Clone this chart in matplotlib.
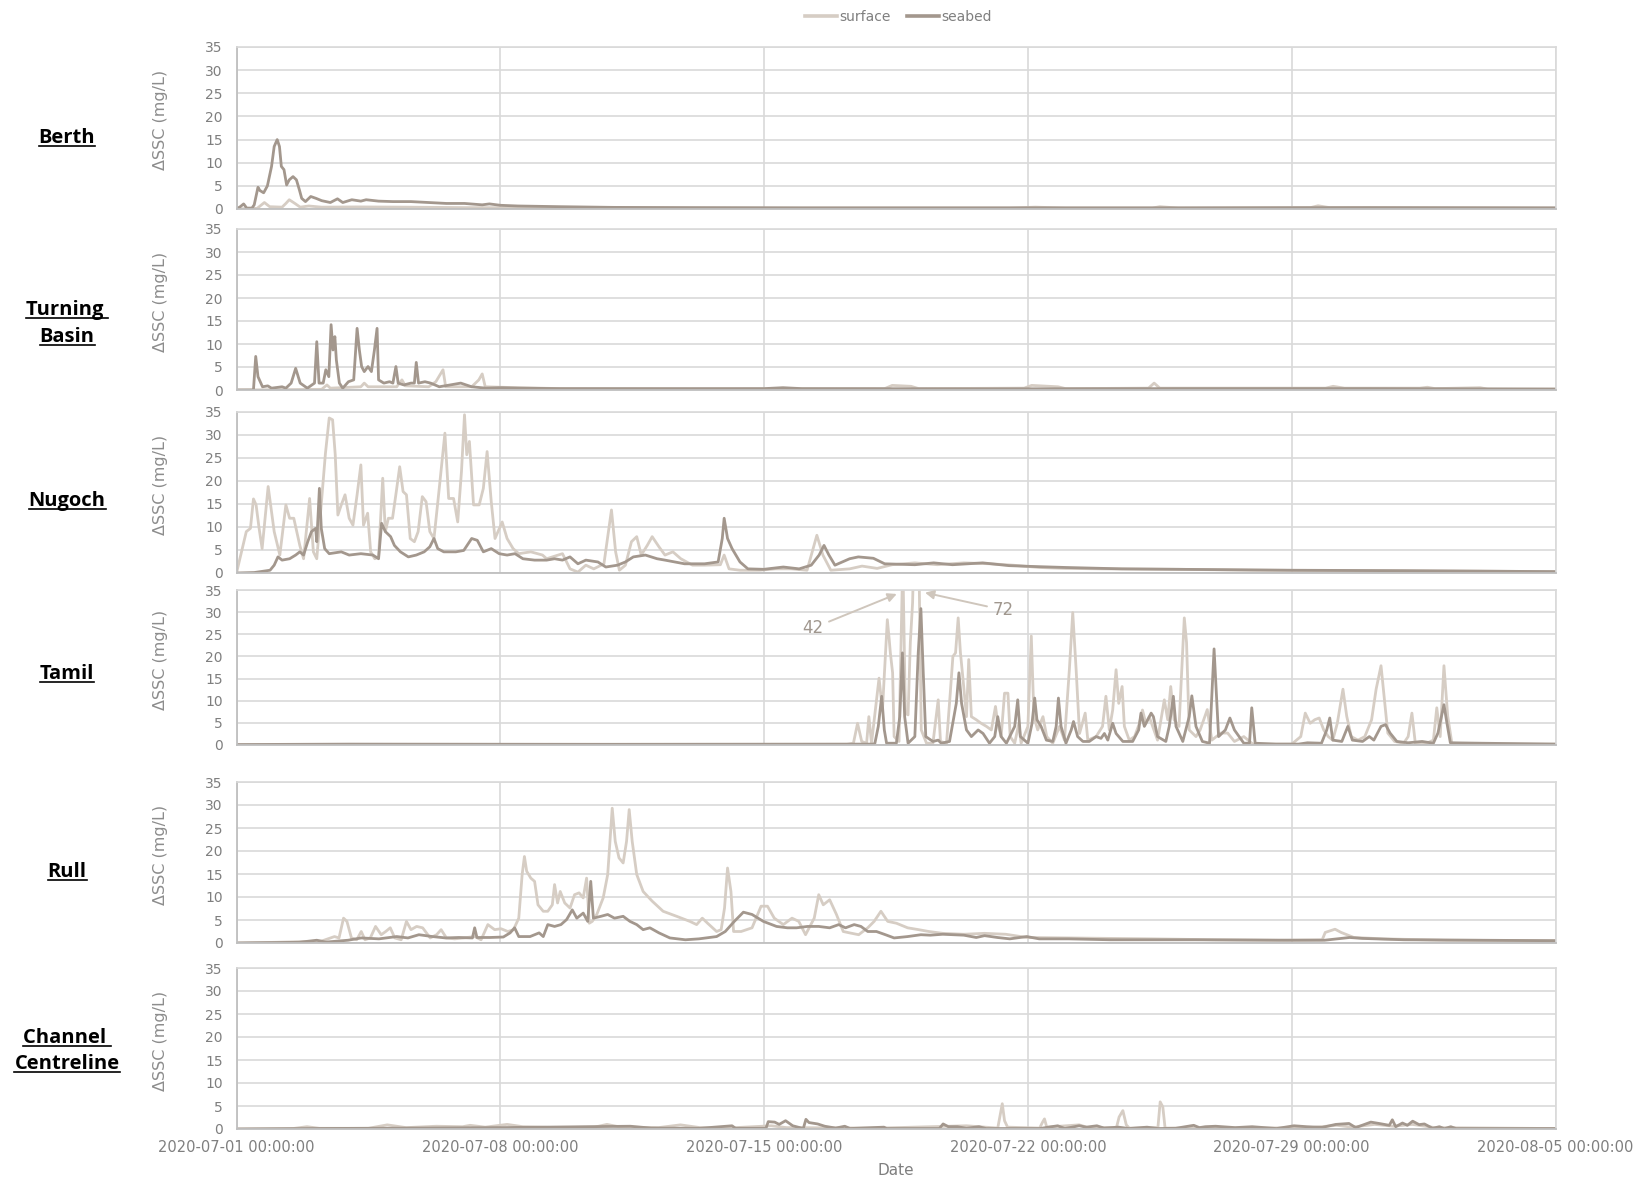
#!/usr/bin/env python3
import numpy as np
import pandas as pd
import matplotlib
matplotlib.use("Agg")
import matplotlib.pyplot as plt
import matplotlib.dates as mdates
from matplotlib.lines import Line2D

# ========== CONFIGURATION ==========
OUTPUT_FILE = "out.png"
START = pd.Timestamp("2020-07-01 00:00:00")
END = pd.Timestamp("2020-08-05 00:00:00")

COLORS = {
    "surface": "#d6cdc4",
    "seabed": "#a3978d",
    "grid": "#d9d9d9",
    "spine": "#bfbfbf",
    "tick": "#7f7f7f",
    "ylabel": "#8c8c8c",
    "note": "#a0978e",
    "arrow": "#cfc6bc",
}

# ========== DATA (day offset from 2020-07-01, dSSC mg/L) ==========
berth_surface = [
    (0, 0), (0.55, 0.15), (0.74, 1.4), (0.88, 0.5), (1.21, 0.4), (1.31, 1.2), (1.40, 2.0),
    (1.55, 1.2), (1.69, 0.4), (1.92, 0.65), (2.26, 0.4), (3.2, 0.45), (4.5, 0.4), (6.05, 0.3),
    (8.6, 0.25), (12, 0.2), (16, 0.2), (20.5, 0.2), (21.2, 0.4), (22, 0.2), (24.3, 0.2),
    (24.5, 0.5), (25, 0.2), (28.5, 0.3), (28.7, 0.7), (29, 0.3), (32, 0.25), (35, 0.2),
]
berth_seabed = [
    (0, 0), (0.10, 0.5), (0.19, 1.1), (0.27, 0.2), (0.41, 0.2), (0.47, 0.9), (0.57, 4.7),
    (0.62, 4.0), (0.72, 3.5), (0.82, 5.0), (0.93, 9.2), (1.00, 13.5), (1.08, 15.0), (1.14, 13.5),
    (1.19, 9.2), (1.26, 8.5), (1.33, 5.2), (1.40, 6.3), (1.50, 7.0), (1.59, 6.3), (1.67, 4.1),
    (1.73, 2.3), (1.83, 1.6), (1.97, 2.7), (2.11, 2.3), (2.26, 1.8), (2.49, 1.4), (2.68, 2.2),
    (2.82, 1.4), (3.06, 2.0), (3.30, 1.7), (3.44, 2.0), (3.77, 1.7), (4.15, 1.6), (4.63, 1.6),
    (5.10, 1.4), (5.57, 1.2), (6.05, 1.2), (6.52, 0.9), (6.71, 1.1), (7.0, 0.8), (7.47, 0.65),
    (8.59, 0.5), (10, 0.35), (12, 0.3), (15, 0.25), (20, 0.25), (25, 0.25), (30, 0.3), (35, 0.25),
]

turning_surface = [
    (0, 0), (2.26, 0.15), (2.40, 1.1), (2.49, 0.4), (3.30, 0.7), (3.39, 1.5), (3.49, 0.7),
    (4.25, 0.7), (4.39, 2.2), (4.48, 0.9), (5.10, 0.7), (5.29, 1.8), (5.48, 4.4), (5.55, 0.7),
    (6.24, 0.7), (6.43, 2.2), (6.52, 3.5), (6.60, 0.7), (7.0, 0.6), (8.6, 0.3), (12, 0.2),
    (17.2, 0.3), (17.4, 1.0), (17.9, 0.8), (18.1, 0.3), (20.9, 0.4), (21.1, 1.0), (21.8, 0.7),
    (22, 0.3), (24.2, 0.4), (24.35, 1.5), (24.5, 0.4), (28.9, 0.4), (29.1, 0.8), (29.4, 0.4),
    (31.4, 0.4), (31.6, 0.6), (31.8, 0.3), (33.0, 0.5), (33.2, 0.2), (35, 0.2),
]
turning_seabed = [
    (0, 0), (0.45, 0), (0.51, 7.3), (0.57, 2.9), (0.69, 0.7), (0.83, 0.9), (0.93, 0.4),
    (1.21, 0.7), (1.31, 0.4), (1.45, 1.5), (1.57, 4.7), (1.69, 1.5), (1.88, 0.4), (2.07, 1.5),
    (2.13, 10.5), (2.19, 1.5), (2.30, 1.5), (2.37, 4.4), (2.45, 2.9), (2.51, 14.2), (2.56, 8.7),
    (2.61, 11.6), (2.65, 6.5), (2.73, 1.5), (2.82, 0.4), (2.97, 1.8), (3.11, 2.2), (3.20, 13.4),
    (3.26, 8.7), (3.32, 5.1), (3.39, 4.0), (3.49, 5.1), (3.58, 4.0), (3.66, 8.7), (3.73, 13.4),
    (3.77, 2.2), (3.91, 1.5), (4.06, 1.8), (4.15, 1.5), (4.23, 5.1), (4.29, 1.5), (4.44, 1.1),
    (4.63, 1.5), (4.72, 1.5), (4.77, 6.0), (4.83, 1.5), (5.0, 1.8), (5.15, 1.5), (5.38, 0.7),
    (5.67, 1.1), (5.95, 1.5), (6.24, 0.7), (6.62, 0.4), (7.0, 0.5), (7.47, 0.4), (8.59, 0.3),
    (10, 0.3), (14, 0.3), (14.5, 0.5), (15, 0.3), (20, 0.25), (25, 0.3), (30, 0.3), (35, 0.2),
]

nugoch_surface = [
    (0, 0), (0.26, 9.0), (0.37, 9.7), (0.45, 16.1), (0.52, 14.8), (0.60, 9.7), (0.68, 5.3),
    (0.84, 18.8), (1.00, 9.0), (1.15, 3.9), (1.31, 14.8), (1.41, 11.9), (1.52, 11.9), (1.68, 6.0),
    (1.78, 3.1), (1.94, 16.2), (2.04, 4.6), (2.13, 3.1), (2.36, 26.0), (2.46, 33.7), (2.55, 33.3),
    (2.62, 25.7), (2.69, 12.6), (2.78, 14.8), (2.88, 17.0), (2.99, 11.9), (3.09, 10.4), (3.20, 17.0),
    (3.30, 23.5), (3.37, 10.4), (3.48, 13.0), (3.56, 4.6), (3.67, 3.1), (3.77, 3.5), (3.88, 20.6),
    (3.95, 9.0), (4.03, 11.9), (4.14, 11.9), (4.24, 17.7), (4.33, 23.1), (4.42, 17.7), (4.51, 17.0),
    (4.61, 7.5), (4.72, 6.8), (4.82, 9.0), (4.93, 16.6), (5.03, 15.5), (5.13, 9.0), (5.24, 7.5),
    (5.38, 18.4), (5.53, 30.4), (5.63, 16.2), (5.76, 16.2), (5.87, 11.1), (5.97, 22.1), (6.05, 34.4),
    (6.11, 25.7), (6.18, 28.6), (6.29, 14.8), (6.44, 14.8), (6.55, 18.4), (6.65, 26.4), (6.76, 15.5),
    (6.86, 7.5), (7.05, 11.1), (7.18, 7.5), (7.34, 5.3), (7.49, 4.2), (7.81, 4.6), (8.12, 3.9),
    (8.23, 3.1), (8.65, 4.2), (8.85, 0.9), (9.06, 0.2), (9.27, 1.7), (9.48, 0.9), (9.75, 2.0),
    (9.95, 13.7), (10.06, 4.6), (10.16, 0.6), (10.32, 1.7), (10.48, 6.8), (10.62, 7.9), (10.74, 3.9),
    (10.90, 6.0), (11.03, 7.9), (11.21, 5.7), (11.37, 3.9), (11.58, 4.6), (11.79, 3.1), (12.10, 1.7),
    (12.42, 1.7), (12.84, 1.8), (12.94, 3.9), (13.07, 0.9), (13.36, 0.6), (13.88, 0.6), (14.30, 0.9),
    (14.72, 0.9), (15.14, 0.6), (15.40, 8.2), (15.56, 3.9), (15.77, 0.6), (16.27, 0.9), (16.6, 1.5),
    (17.0, 1.0), (17.4, 1.8), (18.0, 2.2), (18.6, 1.8), (19.3, 2.2), (20.0, 2.0), (20.6, 1.7),
    (21.3, 1.2), (22, 1.0), (23, 0.9), (25, 0.8), (27, 0.6), (30, 0.5), (33, 0.4), (35, 0.3),
]
nugoch_seabed = [
    (0, 0), (0.47, 0.1), (0.89, 0.6), (1.00, 1.7), (1.10, 3.5), (1.21, 2.8), (1.41, 3.1),
    (1.57, 3.9), (1.68, 4.6), (1.78, 3.9), (1.89, 6.8), (1.99, 9.0), (2.10, 9.7), (2.13, 6.8),
    (2.20, 18.4), (2.25, 9.7), (2.34, 5.3), (2.46, 4.2), (2.78, 4.6), (2.99, 3.9), (3.30, 4.2),
    (3.62, 3.9), (3.77, 3.1), (3.85, 10.8), (3.95, 9.0), (4.09, 7.9), (4.19, 6.0), (4.35, 4.6),
    (4.56, 3.5), (4.77, 3.9), (4.98, 4.6), (5.13, 5.7), (5.24, 7.5), (5.34, 5.3), (5.50, 4.6),
    (5.82, 4.6), (6.03, 4.9), (6.24, 7.5), (6.39, 7.1), (6.55, 4.6), (6.76, 5.3), (6.97, 4.2),
    (7.18, 3.9), (7.39, 4.2), (7.60, 3.1), (7.91, 2.8), (8.23, 2.8), (8.44, 3.1), (8.65, 2.8),
    (8.85, 3.5), (9.06, 2.0), (9.27, 2.8), (9.59, 2.4), (9.80, 1.3), (10.11, 1.7), (10.32, 2.4),
    (10.53, 3.5), (10.85, 3.9), (11.16, 3.1), (11.37, 2.8), (11.89, 2.0), (12.42, 2.0), (12.78, 2.4),
    (12.89, 7.5), (12.94, 11.9), (13.03, 7.5), (13.15, 5.3), (13.36, 2.4), (13.57, 0.9), (13.99, 0.8),
    (14.51, 1.3), (14.93, 0.9), (15.25, 1.7), (15.46, 3.9), (15.59, 6.0), (15.72, 3.9), (15.88, 1.7),
    (16.27, 3.1), (16.5, 3.5), (16.9, 3.2), (17.2, 2.0), (18.0, 1.8), (18.5, 2.2), (19.0, 1.8),
    (19.8, 2.2), (20.5, 1.6), (21.2, 1.4), (22, 1.2), (23.5, 0.9), (25, 0.8), (28, 0.6), (31, 0.5),
    (35, 0.3),
]

tamil_surface = [
    (0, 0), (3, 0.1), (10, 0.15), (16.2, 0.15), (16.37, 0.4), (16.48, 4.9), (16.59, 0.8),
    (16.72, 0.4), (16.78, 6.4), (16.85, 0.4), (17.05, 15.1), (17.14, 7.9), (17.27, 28.3),
    (17.32, 23.8), (17.35, 20.8), (17.41, 16.3), (17.45, 1.9), (17.58, 0.8), (17.68, 42),
    (17.75, 7.2), (17.82, 6.8), (17.88, 23.1), (17.94, 32.1), (18.06, 72), (18.17, 3.4),
    (18.31, 0.4), (18.48, 0.4), (18.62, 10.2), (18.68, 0.8), (18.84, 0.4), (18.94, 11.7),
    (19.01, 20.0), (19.08, 20.8), (19.15, 28.7), (19.21, 20.8), (19.28, 14.7), (19.37, 6.4),
    (19.43, 19.3), (19.50, 6.4), (19.63, 5.7), (19.76, 4.9), (19.90, 4.2), (20.03, 3.4),
    (20.14, 8.7), (20.20, 4.9), (20.29, 1.9), (20.38, 11.7), (20.47, 11.7), (20.53, 1.9),
    (20.65, 0.4), (20.76, 4.9), (20.82, 0.4), (21.0, 4.2), (21.09, 24.6), (21.16, 6.4),
    (21.26, 3.4), (21.40, 6.4), (21.50, 1.9), (21.66, 0.4), (21.84, 4.2), (21.97, 1.1),
    (22.10, 17.0), (22.19, 29.9), (22.28, 17.0), (22.37, 2.6), (22.52, 7.2), (22.59, 1.1),
    (22.81, 1.9), (22.98, 4.2), (23.07, 11.0), (23.16, 3.4), (23.25, 7.9), (23.34, 17.0),
    (23.41, 9.4), (23.50, 13.2), (23.56, 4.2), (23.69, 1.1), (23.83, 1.9), (23.96, 4.9),
    (24.04, 7.9), (24.13, 4.9), (24.22, 6.4), (24.31, 4.2), (24.44, 1.1), (24.62, 10.2),
    (24.71, 5.7), (24.79, 13.2), (24.88, 5.7), (25.01, 4.2), (25.15, 28.7), (25.21, 23.1),
    (25.28, 3.4), (25.46, 1.9), (25.57, 3.4), (25.76, 8.0), (25.88, 1.1), (26.12, 2.7),
    (26.30, 2.7), (26.48, 0.8), (26.73, 1.9), (26.97, 0.2), (27.58, 0.2), (28.0, 0.2),
    (28.24, 1.9), (28.36, 7.2), (28.49, 4.9), (28.61, 5.7), (28.73, 6.1), (28.85, 3.4),
    (28.97, 1.9), (29.09, 1.1), (29.21, 4.9), (29.36, 12.6), (29.46, 6.5), (29.58, 1.9),
    (29.76, 1.1), (29.94, 1.9), (30.12, 5.7), (30.24, 12.6), (30.37, 17.9), (30.46, 10.3),
    (30.55, 2.7), (30.73, 0.8), (30.97, 0.4), (31.09, 1.9), (31.19, 7.2), (31.28, 0.4),
    (31.58, 0.4), (31.76, 1.1), (31.85, 8.4), (31.94, 1.9), (32.04, 17.9), (32.14, 6.5),
    (32.25, 0.4), (33.03, 0.2), (34.0, 0.2), (35, 0.2),
]
tamil_seabed = [
    (0, 0.1), (3, 0.2), (10, 0.15), (16.9, 0.2), (16.94, 0.4), (17.03, 4.2), (17.12, 11.0),
    (17.19, 3.4), (17.25, 0.4), (17.51, 0.4), (17.60, 6.4), (17.67, 20.8), (17.73, 6.4),
    (17.82, 0.4), (18.0, 1.9), (18.09, 20.8), (18.16, 30.8), (18.22, 17.0), (18.29, 1.9),
    (18.48, 0.8), (18.62, 1.1), (18.70, 0.4), (18.92, 0.8), (19.10, 9.4), (19.17, 16.3),
    (19.24, 9.4), (19.37, 3.4), (19.50, 1.9), (19.68, 3.4), (19.81, 2.6), (19.98, 0.4),
    (20.12, 1.9), (20.20, 6.4), (20.29, 1.9), (20.43, 0.4), (20.65, 4.2), (20.73, 10.2),
    (20.80, 1.9), (21.0, 0.4), (21.11, 4.9), (21.18, 10.6), (21.24, 5.7), (21.35, 4.2),
    (21.49, 1.1), (21.66, 0.8), (21.75, 4.2), (21.81, 10.6), (21.88, 4.2), (22.01, 0.4),
    (22.15, 3.4), (22.21, 5.3), (22.32, 1.9), (22.46, 0.8), (22.63, 0.8), (22.81, 1.9),
    (22.94, 1.5), (23.03, 2.6), (23.12, 1.1), (23.25, 4.9), (23.34, 2.6), (23.52, 0.8),
    (23.78, 0.8), (23.94, 3.4), (24.0, 7.2), (24.09, 4.2), (24.27, 7.2), (24.33, 6.4),
    (24.44, 1.9), (24.66, 0.8), (24.75, 4.2), (24.86, 11.0), (24.93, 4.2), (25.11, 0.8),
    (25.28, 6.4), (25.35, 11.1), (25.46, 4.2), (25.63, 0.8), (25.82, 0.4), (25.94, 21.7),
    (26.06, 1.9), (26.24, 3.4), (26.36, 6.1), (26.48, 3.4), (26.73, 0.4), (26.88, 0.4),
    (26.94, 8.4), (27.03, 0.4), (27.58, 0.2), (28.18, 0.2), (28.42, 0.5), (28.79, 0.4),
    (28.93, 3.4), (29.01, 6.1), (29.09, 1.1), (29.33, 0.8), (29.49, 4.2), (29.61, 1.1),
    (29.88, 0.8), (30.06, 1.9), (30.18, 1.1), (30.37, 4.2), (30.49, 4.6), (30.61, 2.7),
    (30.79, 0.8), (31.09, 0.5), (31.46, 0.8), (31.76, 0.4), (31.88, 2.7), (32.04, 9.1),
    (32.12, 4.9), (32.21, 0.5), (33.03, 0.4), (35, 0.2),
]

rull_surface = [
    (0, 0), (1.03, 0.15), (2.25, 0.4), (2.60, 1.4), (2.72, 1.1), (2.84, 5.4), (2.93, 4.7),
    (3.05, 1.1), (3.19, 0.7), (3.31, 2.5), (3.41, 0.7), (3.55, 1.1), (3.69, 3.6), (3.84, 1.8),
    (3.96, 2.5), (4.08, 3.3), (4.20, 1.1), (4.37, 0.7), (4.51, 4.7), (4.63, 2.9), (4.78, 3.6),
    (4.94, 3.3), (5.14, 1.1), (5.31, 1.8), (5.43, 2.9), (5.57, 1.1), (5.79, 0.9), (6.02, 1.1),
    (6.32, 1.4), (6.49, 0.7), (6.67, 4.0), (6.85, 2.9), (7.02, 3.1), (7.20, 2.5), (7.35, 2.9),
    (7.49, 5.4), (7.58, 14.9), (7.64, 18.8), (7.70, 15.6), (7.81, 14.1), (7.91, 13.4), (8.00, 8.3),
    (8.14, 6.9), (8.26, 6.9), (8.38, 8.3), (8.44, 12.7), (8.52, 8.7), (8.59, 11.2), (8.71, 8.7),
    (8.85, 7.6), (8.97, 10.5), (9.09, 10.9), (9.20, 9.8), (9.29, 14.1), (9.36, 4.3), (9.44, 4.7),
    (9.56, 6.2), (9.73, 9.8), (9.85, 14.9), (9.97, 29.3), (10.05, 22.1), (10.15, 18.5),
    (10.26, 17.4), (10.35, 22.1), (10.42, 29.0), (10.50, 22.1), (10.62, 14.9), (10.79, 11.2),
    (11.03, 9.1), (11.32, 6.9), (11.68, 5.8), (12.03, 4.7), (12.21, 4.0), (12.36, 5.4),
    (12.50, 4.3), (12.74, 2.5), (12.86, 2.9), (12.95, 7.6), (13.03, 16.3), (13.12, 11.2),
    (13.19, 2.5), (13.39, 2.5), (13.68, 3.3), (13.92, 8.0), (14.09, 8.0), (14.27, 5.4),
    (14.51, 4.0), (14.74, 5.4), (14.92, 4.7), (15.10, 1.8), (15.33, 5.4), (15.45, 10.5),
    (15.57, 8.3), (15.74, 9.4), (15.92, 6.2), (16.10, 2.5), (16.27, 2.2), (16.51, 1.8),
    (16.75, 3.3), (16.92, 4.7), (17.10, 6.9), (17.28, 4.7), (17.51, 4.3), (17.81, 3.3),
    (18.10, 2.9), (18.37, 2.5), (18.74, 2.1), (19.30, 1.9), (19.85, 2.1), (20.41, 1.9),
    (20.97, 1.2), (22.08, 1.1), (23.19, 1.0), (24.31, 0.9), (25.97, 0.7), (27.64, 0.6),
    (28.81, 0.7), (28.89, 2.3), (29.15, 3.0), (29.31, 2.3), (29.65, 1.2), (30.43, 0.9),
    (32.10, 0.6), (35, 0.5),
]
rull_seabed = [
    (0, 0), (1.66, 0.15), (2.13, 0.6), (2.37, 0.2), (2.96, 0.6), (3.31, 1.1), (3.78, 0.9),
    (4.25, 1.4), (4.55, 1.1), (4.84, 1.8), (5.20, 1.4), (5.55, 1.1), (5.90, 1.2), (6.26, 1.1),
    (6.32, 3.3), (6.38, 1.2), (6.73, 1.2), (7.08, 1.3), (7.26, 2.2), (7.38, 3.3), (7.49, 1.4),
    (7.79, 1.4), (8.03, 2.2), (8.14, 1.4), (8.26, 4.0), (8.44, 3.6), (8.61, 4.0), (8.76, 5.1),
    (8.91, 7.2), (9.03, 5.4), (9.20, 6.5), (9.32, 4.7), (9.40, 13.4), (9.47, 5.4), (9.67, 5.8),
    (9.85, 6.2), (10.03, 5.4), (10.26, 5.8), (10.44, 4.7), (10.62, 4.0), (10.79, 2.9),
    (10.97, 3.3), (11.21, 2.2), (11.50, 1.1), (11.91, 0.7), (12.27, 0.9), (12.74, 1.4),
    (12.97, 2.5), (13.21, 4.7), (13.45, 6.7), (13.68, 6.2), (13.98, 4.7), (14.33, 3.6),
    (14.62, 3.3), (14.86, 3.3), (15.15, 3.6), (15.45, 3.6), (15.74, 3.3), (15.98, 4.0),
    (16.16, 3.3), (16.39, 4.0), (16.57, 3.6), (16.75, 2.5), (16.98, 2.5), (17.22, 1.8),
    (17.45, 1.1), (17.81, 1.4), (18.16, 1.8), (18.41, 1.7), (18.74, 1.9), (19.30, 1.7),
    (19.63, 1.2), (19.85, 1.6), (20.19, 1.2), (20.52, 0.9), (20.97, 1.4), (21.30, 0.9),
    (22.08, 0.9), (23.19, 0.7), (25.42, 0.7), (27.87, 0.6), (28.87, 0.6), (29.54, 1.2),
    (29.87, 1.0), (30.98, 0.7), (35, 0.5),
]

channel_surface = [
    (0, 0), (1.5, 0.1), (1.87, 0.5), (2.2, 0.15), (3.5, 0.15), (4.0, 0.9), (4.5, 0.3),
    (5.3, 0.6), (6.0, 0.5), (6.2, 0.8), (6.6, 0.4), (7.18, 1.0), (7.6, 0.5), (8.5, 0.3),
    (9.5, 0.4), (9.83, 1.0), (10.2, 0.4), (11.2, 0.3), (11.78, 0.9), (12.3, 0.3), (13, 0.2),
    (14.19, 0.7), (14.6, 0.3), (17.04, 0.2), (19.37, 0.7), (20.2, 0.2), (20.32, 5.5),
    (20.38, 1.8), (20.46, 0.4), (21.31, 0.2), (21.39, 1.5), (21.44, 2.2), (21.50, 0.4),
    (22.36, 0.9), (22.6, 0.3), (23.35, 0.3), (23.42, 2.6), (23.52, 4.0), (23.61, 0.9),
    (23.69, 0.2), (24.45, 0.3), (24.51, 5.9), (24.58, 4.8), (24.64, 0.2), (27, 0.2),
    (28.5, 0.3), (29.2, 0.8), (29.6, 0.4), (30.2, 1.0), (30.7, 0.6), (31.2, 1.0), (31.8, 0.3),
    (35, 0.1),
]
channel_seabed = [
    (0, 0), (2, 0.1), (5, 0.2), (7, 0.3), (10.45, 0.6), (11, 0.2), (12.29, 0.15), (13.15, 0.7),
    (13.24, 0.15), (14.05, 0.15), (14.11, 1.6), (14.28, 1.5), (14.40, 1.0), (14.57, 1.8),
    (14.76, 0.7), (15.04, 0.1), (15.11, 2.1), (15.19, 1.4), (15.42, 1.1), (15.61, 0.6),
    (15.90, 0.2), (16.14, 0.6), (16.28, 0.1), (17.18, 0.4), (17.25, 0.1), (18.65, 0.1),
    (18.75, 1.1), (18.89, 0.5), (19.13, 0.5), (19.37, 0.15), (19.70, 0.5), (19.89, 0.1),
    (21.31, 0.1), (21.79, 0.7), (21.98, 0.1), (22.36, 0.7), (22.55, 0.4), (22.83, 0.7),
    (23.02, 0.2), (23.40, 0.4), (23.69, 0.1), (24.16, 0.4), (24.45, 0.1), (24.92, 0.15),
    (25.40, 0.8), (25.55, 0.3), (25.71, 0.5), (25.98, 0.6), (26.5, 0.3), (26.95, 0.5),
    (27.6, 0.1), (28.06, 0.7), (28.4, 0.5), (28.81, 0.35), (29.17, 1.0), (29.52, 1.2),
    (29.70, 0.3), (30.10, 1.5), (30.32, 1.2), (30.59, 0.8), (30.67, 2.0), (30.76, 0.5),
    (30.94, 1.3), (31.07, 0.8), (31.21, 1.7), (31.38, 0.95), (31.52, 1.1), (31.74, 0.15),
    (31.92, 0.5), (32.05, 0.05), (32.22, 0.5), (32.36, 0.1), (35, 0.1),
]

station_lines = [["Berth"], ["Turning ", "Basin"], ["Nugoch"], ["Tamil"], ["Rull"],
                 ["Channel ", "Centreline"]]
series = [
    (berth_surface, berth_seabed),
    (turning_surface, turning_seabed),
    (nugoch_surface, nugoch_seabed),
    (tamil_surface, tamil_seabed),
    (rull_surface, rull_seabed),
    (channel_surface, channel_seabed),
]

# ========== LAYOUT (pixels of a 1648x1184 canvas) ==========
W, H = 1648, 1184
AX_LEFT, AX_RIGHT = 236.5, 1555.5
PANEL_PX = [(47, 209), (229, 390), (412, 573), (590, 745), (782, 943), (968, 1129)]
LABEL_BASELINES = [[143], [315, 342], [506], [679], [877], [1043, 1069]]
LABEL_X = 67


def to_time(days):
    return START + pd.to_timedelta(np.asarray(days, dtype=float), unit="D")


def unzip(pairs):
    d, v = zip(*pairs)
    return to_time(d), np.array(v, dtype=float)


# ========== PLOTTING ==========
fig = plt.figure(figsize=(W / 100, H / 100), dpi=100)
week_ticks = [START + pd.Timedelta(days=7 * i) for i in range(6)]

axes = []
for i, ((surf, sea), (top, bot)) in enumerate(zip(series, PANEL_PX)):
    ax = fig.add_axes([AX_LEFT / W, 1 - bot / H, (AX_RIGHT - AX_LEFT) / W, (bot - top) / H])
    ts, vs = unzip(surf)
    tb, vb = unzip(sea)
    ax.plot(ts, vs, color=COLORS["surface"], lw=2.0, solid_joinstyle="round")
    ax.plot(tb, vb, color=COLORS["seabed"], lw=2.0, solid_joinstyle="round")

    ax.set_xlim(START, END)
    ax.set_ylim(0, 35)
    ax.set_yticks(range(0, 36, 5))
    ax.set_xticks(week_ticks)
    ax.xaxis.set_major_formatter(mdates.DateFormatter("%Y-%m-%d %H:%M:%S"))
    ax.grid(True, color=COLORS["grid"], lw=1.2)
    ax.set_axisbelow(True)
    for side in ["top", "right"]:
        ax.spines[side].set_color(COLORS["grid"])
        ax.spines[side].set_linewidth(1.2)
    for side in ["left", "bottom"]:
        ax.spines[side].set_color(COLORS["spine"])
        ax.spines[side].set_linewidth(1.3)
    ax.tick_params(axis="y", length=0, pad=10, labelsize=10, labelcolor=COLORS["tick"])
    ax.tick_params(axis="x", length=0, pad=8, labelsize=10.5, labelcolor=COLORS["tick"],
                   labelbottom=(i == len(series) - 1))
    ax.set_ylabel("\u0394SSC (mg/L)", fontsize=11.5, color=COLORS["ylabel"])
    ax.yaxis.set_label_coords((168 - AX_LEFT) / (AX_RIGHT - AX_LEFT), 0.55)
    axes.append(ax)

# Tamil panel: off-scale peaks
ax_t = axes[3]
arrow_kw = dict(arrowstyle="-|>", color=COLORS["arrow"], lw=1.4, mutation_scale=13,
                shrinkA=2, shrinkB=0)
ax_t.annotate("42", xy=(to_time(17.52), 34.1), xytext=(to_time(15.30), 26.4),
              ha="center", va="center", fontsize=12, color=COLORS["note"], arrowprops=arrow_kw)
ax_t.annotate("72", xy=(to_time(18.27), 34.4), xytext=(to_time(20.34), 30.5),
              ha="center", va="center", fontsize=12, color=COLORS["note"], arrowprops=arrow_kw)

axes[-1].set_xlabel("Date", fontsize=11, color=COLORS["tick"], labelpad=6)

# Legend
handles = [Line2D([0], [0], color=COLORS["surface"], lw=2.6, label="surface"),
           Line2D([0], [0], color=COLORS["seabed"], lw=2.6, label="seabed")]
fig.legend(handles=handles, loc="center", bbox_to_anchor=(898.5 / W, 1 - 17 / H), ncol=2,
           frameon=False, fontsize=10, labelcolor=COLORS["tick"], handlelength=2.3,
           handletextpad=0.2, columnspacing=1.15)

# Station names (bold, underlined)
texts = []
for lines, baselines in zip(station_lines, LABEL_BASELINES):
    for s, yb in zip(lines, baselines):
        t = fig.text(LABEL_X / W, 1 - yb / H, s, ha="center", va="baseline", fontsize=14.5,
                     fontweight="bold", family=["Open Sans", "DejaVu Sans"], color="black")
        texts.append((t, yb))

fig.canvas.draw()
renderer = fig.canvas.get_renderer()
for t, yb in texts:
    bb = t.get_window_extent(renderer)
    y_line = 1 - (yb + 2.5) / H
    fig.add_artist(Line2D([bb.x0 / W, bb.x1 / W], [y_line, y_line], transform=fig.transFigure,
                          color="black", lw=1.2))

fig.savefig(OUTPUT_FILE, dpi=100)
plt.close(fig)
print(f"saved {OUTPUT_FILE}")
